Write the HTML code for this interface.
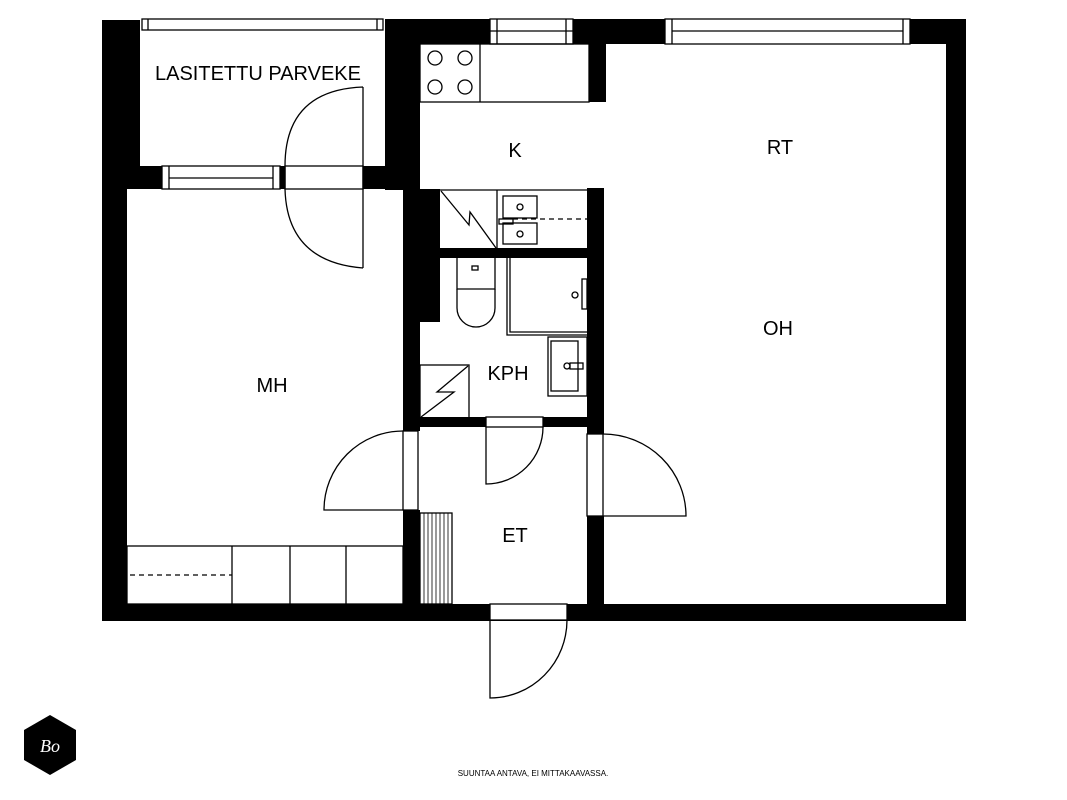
<!DOCTYPE html>
<html><head><meta charset="utf-8"><style>
html,body{margin:0;padding:0;background:#fff;}
svg{display:block}
text{font-family:"Liberation Sans",sans-serif;fill:#000}
</style></head><body>
<svg width="1067" height="800" viewBox="0 0 1067 800" xmlns="http://www.w3.org/2000/svg">
<rect width="1067" height="800" fill="#fff"/>
<g fill="#000">
<rect x="102" y="20" width="38" height="146"/>
<rect x="102" y="166" width="25" height="455"/>
<rect x="102" y="166" width="60" height="23"/>
<rect x="280" y="166" width="5" height="23"/>
<rect x="363" y="166" width="57" height="23"/>
<rect x="385" y="20" width="35" height="170"/>
<rect x="403" y="189" width="37" height="133"/>
<rect x="403" y="189" width="17" height="242"/>
<rect x="403" y="510" width="17" height="111"/>
<rect x="385" y="19" width="581" height="25"/>
<rect x="589" y="43" width="17" height="59"/>
<rect x="946" y="19" width="20" height="602"/>
<rect x="102" y="604" width="864" height="17"/>
<rect x="587" y="188" width="17" height="246"/>
<rect x="587" y="516" width="17" height="105"/>
<rect x="420" y="248" width="184" height="10"/>
<rect x="403" y="417" width="200" height="10"/>
</g>
<g fill="#fff" stroke="#000" stroke-width="1.3">
<rect x="142" y="19" width="241" height="11"/>
<line x1="148" y1="19" x2="148" y2="30"/><line x1="377" y1="19" x2="377" y2="30"/>
<rect x="490" y="19" width="83" height="25"/>
<line x1="490" y1="31" x2="573" y2="31"/>
<line x1="497" y1="19" x2="497" y2="44"/><line x1="566" y1="19" x2="566" y2="44"/>
<rect x="665" y="19" width="245" height="25"/>
<line x1="672" y1="31" x2="903" y2="31"/>
<line x1="672" y1="19" x2="672" y2="44"/><line x1="903" y1="19" x2="903" y2="44"/>
<rect x="162" y="166" width="118" height="23"/>
<line x1="169" y1="178" x2="273" y2="178"/>
<line x1="169" y1="166" x2="169" y2="189"/><line x1="273" y1="166" x2="273" y2="189"/>
<rect x="285" y="166" width="78" height="23"/>
<rect x="403" y="431" width="15" height="79"/>
<rect x="587" y="434" width="16" height="82"/>
<rect x="486" y="417" width="57" height="10"/>
<rect x="490" y="604" width="77" height="16"/>
</g>
<g fill="none" stroke="#000" stroke-width="1.3">
<path d="M363,87 L363,268 M363,87 Q285,90 285,166 L285,189 Q287,262 363,268"/>
<path d="M403,431 A79,79 0 0 0 324,510 L403,510"/>
<path d="M603,434 A83,82 0 0 1 686,516 L603,516"/>
<path d="M543,427 A57,57 0 0 1 486,484 L486,427"/>
<path d="M567,620 A77,78 0 0 1 490,698 L490,620"/>
<rect x="420" y="44" width="169" height="58"/>
<line x1="480" y1="44" x2="480" y2="102"/>
<circle cx="435" cy="58" r="7"/><circle cx="465" cy="58" r="7"/>
<circle cx="435" cy="87" r="7"/><circle cx="465" cy="87" r="7"/>
<line x1="440" y1="190" x2="587" y2="190"/>
<line x1="497" y1="190" x2="497" y2="248"/>
<path d="M441,191 L469,225 L470,212 L496,248"/>
<rect x="503" y="196" width="34" height="22"/>
<rect x="503" y="223" width="34" height="21"/>
<circle cx="520" cy="207" r="3"/><circle cx="520" cy="234" r="3"/>
<rect x="499" y="219" width="14" height="5"/>
<line x1="513" y1="219" x2="587" y2="219" stroke-dasharray="5,4"/>
<path d="M457,258 L457,289 L495,289 L495,258"/>
<path d="M457,289 L457,308 A19,19 0 0 0 495,308 L495,289"/>
<rect x="472" y="266" width="6" height="4"/>
<path d="M507,258 L507,335 L587,335"/>
<path d="M510,258 L510,332 L587,332"/>
<rect x="582" y="279" width="5" height="30"/>
<circle cx="575" cy="295" r="3"/>
<rect x="548" y="337" width="39" height="59"/>
<rect x="551" y="341" width="27" height="50"/>
<circle cx="567" cy="366" r="3"/><rect x="570" y="363" width="13" height="6"/>
<rect x="420" y="365" width="49" height="53"/>
<path d="M421,417 L454,392 L437,392 L468,366"/>
<rect x="420" y="513" width="32" height="91"/>
<rect x="127" y="546" width="276" height="58"/>
<line x1="232" y1="546" x2="232" y2="604"/>
<line x1="290" y1="546" x2="290" y2="604"/>
<line x1="346" y1="546" x2="346" y2="604"/>
<line x1="130" y1="575" x2="232" y2="575" stroke-dasharray="5,4"/>
</g>
<g stroke="#000" stroke-width="0.8">
<line x1="424" y1="513" x2="424" y2="604"/><line x1="428" y1="513" x2="428" y2="604"/>
<line x1="432" y1="513" x2="432" y2="604"/><line x1="436" y1="513" x2="436" y2="604"/>
<line x1="440" y1="513" x2="440" y2="604"/><line x1="444" y1="513" x2="444" y2="604"/>
<line x1="448" y1="513" x2="448" y2="604"/>
</g>
<g font-size="20">
<text x="258" y="80" text-anchor="middle">LASITETTU PARVEKE</text>
<text x="515" y="157" text-anchor="middle">K</text>
<text x="780" y="154" text-anchor="middle">RT</text>
<text x="778" y="335" text-anchor="middle">OH</text>
<text x="272" y="392" text-anchor="middle">MH</text>
<text x="508" y="380" text-anchor="middle">KPH</text>
<text x="515" y="542" text-anchor="middle">ET</text>
</g>
<polygon points="50,715 76,730 76,760 50,775 24,760 24,730" fill="#000"/>
<text x="50" y="752" text-anchor="middle" font-size="18" font-style="italic" style="fill:#fff;font-family:'Liberation Serif',serif">Bo</text>
<text x="533" y="776" text-anchor="middle" font-size="8">SUUNTAA ANTAVA, EI MITTAKAAVASSA.</text>
</svg>
</body></html>
